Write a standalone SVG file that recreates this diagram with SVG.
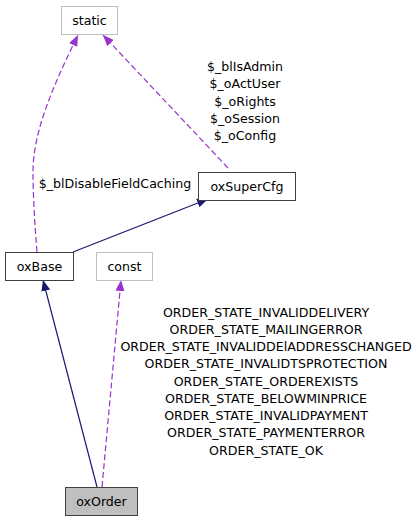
<svg xmlns="http://www.w3.org/2000/svg" width="420" height="520" viewBox="0 0 420 520">
<style>
text{font-family:"DejaVu Sans","Liberation Sans",sans-serif;font-size:12.6px;fill:#000;text-anchor:middle}
.box{fill:#fff;stroke:#404040;stroke-width:1}
.ghost{fill:#fff;stroke:#bfbfbf;stroke-width:1}
.cur{fill:#bfbfbf;stroke:#404040;stroke-width:1}
.inh{fill:none;stroke:#191970;stroke-width:1.2}
.use{fill:none;stroke:#9a32cd;stroke-width:1.2;stroke-dasharray:6,3}
</style>
<defs>
<marker id="ah" markerUnits="userSpaceOnUse" markerWidth="12" markerHeight="10" refX="11" refY="4.5" orient="auto">
<polygon points="0,0 11,4.5 0,9" fill="#191970"/>
</marker>
<marker id="ap" markerUnits="userSpaceOnUse" markerWidth="12" markerHeight="10" refX="11" refY="4.5" orient="auto">
<polygon points="0,0 11,4.5 0,9" fill="#9a32cd"/>
</marker>
</defs>
<g id="connectors">
<path class="use" d="M37,252 C34,215 33,190 33,172 C33,130 55,82 78,35" marker-end="url(#ap)"/>
<path class="use" d="M228,168 L103,35" marker-end="url(#ap)"/>
<path class="inh" d="M73,252 L208,199" marker-end="url(#ah)"/>
<path class="inh" d="M97,487 L43,280" marker-end="url(#ah)"/>
<path class="use" d="M102,487 L121,280" marker-end="url(#ap)"/>
<text x="115" y="188">$_blDisableFieldCaching</text>
<text x="245" y="71">$_blIsAdmin</text>
<text x="245" y="88">$_oActUser</text>
<text x="245" y="106">$_oRights</text>
<text x="245" y="123">$_oSession</text>
<text x="245" y="140">$_oConfig</text>
<text x="266" y="317">ORDER_STATE_INVALIDDELIVERY</text>
<text x="266" y="334">ORDER_STATE_MAILINGERROR</text>
<text x="266" y="351">ORDER_STATE_INVALIDDElADDRESSCHANGED</text>
<text x="266" y="368">ORDER_STATE_INVALIDTSPROTECTION</text>
<text x="266" y="386">ORDER_STATE_ORDEREXISTS</text>
<text x="266" y="403">ORDER_STATE_BELOWMINPRICE</text>
<text x="266" y="420">ORDER_STATE_INVALIDPAYMENT</text>
<text x="266" y="437">ORDER_STATE_PAYMENTERROR</text>
<text x="266" y="455">ORDER_STATE_OK</text>
</g>
<g id="static">
<rect class="ghost" x="61.5" y="6.5" width="56" height="28"/>
<text x="89.5" y="25">static</text>
</g>
<g id="oxSuperCfg">
<rect class="box" x="198.5" y="172.5" width="97" height="28"/>
<text x="247" y="191">oxSuperCfg</text>
</g>
<g id="oxBase">
<rect class="box" x="5.5" y="252.5" width="68" height="28"/>
<text x="39.5" y="271">oxBase</text>
</g>
<g id="const">
<rect class="ghost" x="96.5" y="252.5" width="56" height="28"/>
<text x="124.5" y="271">const</text>
</g>
<g id="oxOrder">
<rect class="cur" x="65.5" y="487.5" width="72" height="28"/>
<text x="101.5" y="506">oxOrder</text>
</g>
</svg>
